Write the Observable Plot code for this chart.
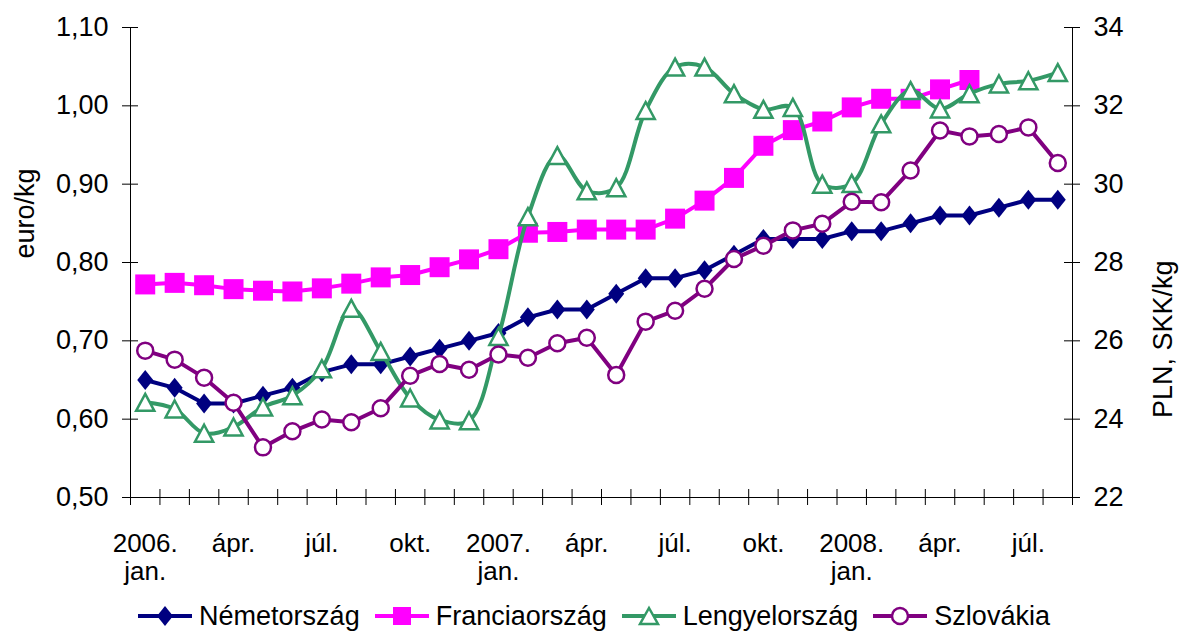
<!DOCTYPE html>
<html><head><meta charset="utf-8">
<script src="https://cdn.jsdelivr.net/npm/d3@7"></script>
<script src="https://cdn.jsdelivr.net/npm/@observablehq/plot@0.6"></script>
<style>
body{margin:0;background:#fff;font-family:"Liberation Sans",Arial,sans-serif;}
#legend{display:flex;justify-content:center;gap:15px;height:32px;align-items:center;font-size:27px;padding-left:7px;color:#000;}
.item{display:flex;align-items:center;gap:7px;}
</style></head>
<body><div id="chart"></div><div id="legend"></div>
<script>
// Month labels (2006 jan. – 2008 aug.)
const monthLabels = ["2006.\njan.","febr.","márc.","ápr.","máj.","jún.","júl.","aug.","szept.","okt.","nov.","dec.",
  "2007.\njan.","febr.","márc.","ápr.","máj.","jún.","júl.","aug.","szept.","okt.","nov.","dec.",
  "2008.\njan.","febr.","márc.","ápr.","máj.","jún.","júl.","aug."];
const labelIdx = [0,3,6,9,12,15,18,21,24,27,30];
const leftTicks = [0.5,0.6,0.7,0.8,0.9,1.0,1.1];
const rightTicks = [22,24,26,28,30,32,34];
const seriesNames = ["Németország","Franciaország","Lengyelország","Szlovákia"];
const seriesColors = ["#000080","#FF00FF","#339966","#800080"];

// euro/kg (left axis)
const nemet = [0.65,0.64,0.62,0.62,0.63,0.64,0.66,0.67,0.67,0.68,0.69,0.70,0.71,0.73,0.74,0.74,0.76,0.78,0.78,0.79,0.81,0.83,0.83,0.83,0.84,0.84,0.85,0.86,0.86,0.87,0.88,0.88];
const francia = [0.772,0.774,0.771,0.766,0.764,0.763,0.767,0.773,0.781,0.784,0.794,0.804,0.817,0.838,0.839,0.842,0.842,0.842,0.856,0.879,0.908,0.949,0.969,0.980,0.998,1.009,1.009,1.021,1.033];
// PLN, SKK/kg (right axis)
const lengyel = [24.43,24.26,23.64,23.80,24.31,24.60,25.29,26.83,25.73,24.54,23.98,23.96,26.11,29.17,30.73,29.83,29.91,31.88,32.99,32.99,32.31,31.91,31.96,30.00,30.02,31.54,32.39,31.92,32.31,32.56,32.64,32.85];
const szlovak = [25.75,25.52,25.06,24.42,23.28,23.69,23.99,23.92,24.28,25.11,25.41,25.26,25.65,25.57,25.94,26.08,25.13,26.49,26.77,27.33,28.09,28.43,28.82,28.99,29.55,29.54,30.35,31.37,31.22,31.28,31.45,30.54];

const L0 = leftTicks[0], L1 = leftTicks[leftTicks.length-1];
const R0 = rightTicks[0], R1 = rightTicks[rightTicks.length-1];
const toLeft = v => L0 + (v - R0) * (L1 - L0) / (R1 - R0);
const toRight = d => Math.round(R0 + (d - L0) * (R1 - R0) / (L1 - L0));
const fmtLeft = d => d.toFixed(2).replace(".", ",");
const n = monthLabels.length;
const boundaries = monthLabels.map((_, i) => i - 0.5).concat([n - 0.5]);
const xMin = -0.5, xMax = n - 0.5;

const diamondSym = {draw(ctx, size){const r=Math.sqrt(size/Math.PI);ctx.moveTo(0,-r);ctx.lineTo(r*0.8,0);ctx.lineTo(0,r);ctx.lineTo(-r*0.8,0);ctx.closePath();}};
const squareSym = {draw(ctx, size){const r=Math.sqrt(size/Math.PI);ctx.rect(-r,-r,2*r,2*r);}};
const triSym = {draw(ctx, size){const r=Math.sqrt(size/Math.PI);ctx.moveTo(0,-r);ctx.lineTo(r*1.07,r);ctx.lineTo(-r*1.07,r);ctx.closePath();}};

const X = (d, i) => i;
const chart = Plot.plot({
  width: 1181, height: 600,
  marginLeft: 130, marginRight: 109, marginTop: 27, marginBottom: 103,
  style: {fontFamily: "'Liberation Sans', Arial, sans-serif", fontSize: "27px", color: "#000", background: "#fff", overflow: "visible"},
  x: {domain: [xMin, xMax]},
  y: {domain: [L0, L1]},
  marks: [
    Plot.ruleY([L0], {stroke: "#000", strokeWidth: 1}),
    Plot.ruleX([xMin, xMax], {stroke: "#000", strokeWidth: 1}),
    Plot.ruleY(leftTicks, {x1: xMin, x2: xMin, insetLeft: -8, insetRight: -8, stroke: "#000"}),
    Plot.ruleY(leftTicks, {x1: xMax, x2: xMax, insetLeft: -8, insetRight: -8, stroke: "#000"}),
    Plot.ruleX(boundaries, {y1: L0, y2: L0, insetTop: -8, insetBottom: -8, stroke: "#000"}),
    Plot.axisY(leftTicks, {anchor: "left", tickSize: 0, tickPadding: 22, tickFormat: fmtLeft, label: null}),
    Plot.axisY(leftTicks, {anchor: "right", tickSize: 0, tickPadding: 21, tickFormat: toRight, label: null}),
    Plot.axisX(labelIdx, {anchor: "bottom", tickSize: 0, tickPadding: 34, tickFormat: i => monthLabels[i], label: null, fontSize: 26, lineHeight: 1.1}),
    Plot.text(["euro/kg"], {frameAnchor: "left", rotate: -90, dx: -105, dy: -4, fontSize: 27}),
    Plot.text(["PLN, SKK/kg"], {frameAnchor: "right", rotate: -90, dx: 91, dy: -2, fontSize: 27}),
    // Németország
    Plot.line(nemet, {x: X, y: d => d, stroke: seriesColors[0], strokeWidth: 4}),
    Plot.dot(nemet, {x: X, y: d => d, symbol: diamondSym, r: 10, fill: seriesColors[0], stroke: "none"}),
    // Franciaország
    Plot.line(francia, {x: X, y: d => d, stroke: seriesColors[1], strokeWidth: 4}),
    Plot.dot(francia, {x: X, y: d => d, symbol: squareSym, r: 10, fill: seriesColors[1], stroke: "none"}),
    // Lengyelország
    Plot.line(lengyel, {x: X, y: toLeft, stroke: seriesColors[2], strokeWidth: 4, curve: "catmull-rom"}),
    Plot.dot(lengyel, {x: X, y: toLeft, symbol: triSym, r: 8.5, fill: "#fff", stroke: seriesColors[2], strokeWidth: 2.5}),
    // Szlovákia
    Plot.line(szlovak, {x: X, y: toLeft, stroke: seriesColors[3], strokeWidth: 4}),
    Plot.dot(szlovak, {x: X, y: toLeft, r: 8, fill: "#fff", stroke: seriesColors[3], strokeWidth: 2.5})
  ]
});
document.getElementById("chart").appendChild(chart);

// Legend
const markerSvg = [
  `<path d="M27,2 L35,12 L27,22 L19,12 Z" fill="${seriesColors[0]}"/>`,
  `<rect x="18" y="3" width="18" height="18" fill="${seriesColors[1]}"/>`,
  `<path d="M27,4 L36,20 L18,20 Z" fill="#fff" stroke="${seriesColors[2]}" stroke-width="2.5"/>`,
  `<circle cx="27" cy="12" r="8" fill="#fff" stroke="${seriesColors[3]}" stroke-width="2.5"/>`
];
const legend = document.getElementById("legend");
seriesNames.forEach((name, k) => {
  const item = document.createElement("div");
  item.className = "item";
  item.innerHTML = `<svg width="54" height="24"><line x1="0" x2="54" y1="12" y2="12" stroke="${seriesColors[k]}" stroke-width="4"/>${markerSvg[k]}</svg><span>${name}</span>`;
  legend.appendChild(item);
});
</script></body></html>
